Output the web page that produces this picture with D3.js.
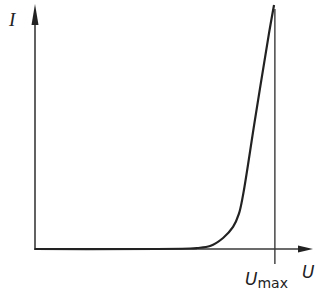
<!DOCTYPE html>
<meta charset="utf-8">
<style>
body { margin: 0; background: #fff; }
.axis { stroke: #3a3a3a; stroke-width: 1.6px; fill: none; }
.curve { stroke: #222; stroke-width: 2.2px; fill: none; }
.umax { stroke: #3a3a3a; stroke-width: 1.4px; }
text { font-family: "DejaVu Sans", sans-serif; fill: #222; }
</style>
<body>
<script src="https://d3js.org/d3.v7.min.js"></script>
<script>

// voltage / current samples (arbitrary units 0..100)
var voltage = [0, 56.0, 58.5, 63.2, 67.9, 71.5, 73.6, 75.1, 79.4, 84.5, 86.3];
var current = [0, 0.2, 0.4, 1.2, 4.5, 9.0, 14.3, 22.0, 52.7, 88.2, 99.6];
var uMax = 86.6;
var axisLabels = ["I", "U"];
var umaxLabel = ["U", "max"];

var width = 315, height = 293;
var x0 = 35, y0 = 249;

var x = d3.scaleLinear().domain([0, 100]).range([x0, 312]);
var y = d3.scaleLinear().domain([0, 100]).range([y0, 4]);

var svg = d3.select("body").append("svg")
    .attr("width", width)
    .attr("height", height);

// axes
svg.append("line").attr("class", "axis")
    .attr("x1", x0).attr("y1", y0 + 1).attr("x2", x0).attr("y2", y(100) + 10);
svg.append("line").attr("class", "axis")
    .attr("x1", x0 - 1).attr("y1", y0).attr("x2", x(100) - 8).attr("y2", y0);

// arrow heads
svg.append("path")
    .attr("d", "M" + x0 + "," + y(100) + " L" + (x0 - 3.5) + "," + (y(100) + 21) +
               " L" + (x0 + 3.5) + "," + (y(100) + 21) + "Z")
    .attr("fill", "#222");
svg.append("path")
    .attr("d", "M" + (x(100) + 1) + "," + y0 + " L" + (x(100) - 14) + "," + (y0 - 3.5) +
               " L" + (x(100) - 14) + "," + (y0 + 3.5) + "Z")
    .attr("fill", "#222");

// curve
var line = d3.line()
    .x(function(d) { return x(d[0]); })
    .y(function(d) { return y(d[1]); })
    .curve(d3.curveCatmullRom.alpha(0.5));

svg.append("path").attr("class", "curve")
    .attr("d", line(d3.zip(voltage, current)));

// U max marker
svg.append("line").attr("class", "umax")
    .attr("x1", x(uMax)).attr("y1", y(d3.max(current)) + 4)
    .attr("x2", x(uMax)).attr("y2", y0 + 15);

// labels
svg.append("text")
    .attr("x", 9).attr("y", 26)
    .style("font-family", "'Liberation Serif', serif")
    .style("font-style", "italic")
    .style("font-size", "19px")
    .text(axisLabels[0]);

svg.append("text")
    .attr("x", 302).attr("y", 278)
    .style("font-size", "17px")
    .style("font-style", "italic")
    .text(axisLabels[1]);

var um = svg.append("text")
    .attr("x", 245).attr("y", 285)
    .style("font-size", "17px");
um.append("tspan").style("font-style", "italic").text(umaxLabel[0]);
um.append("tspan").attr("dy", 3).style("font-size", "14px").text(umaxLabel[1]);

</script>
